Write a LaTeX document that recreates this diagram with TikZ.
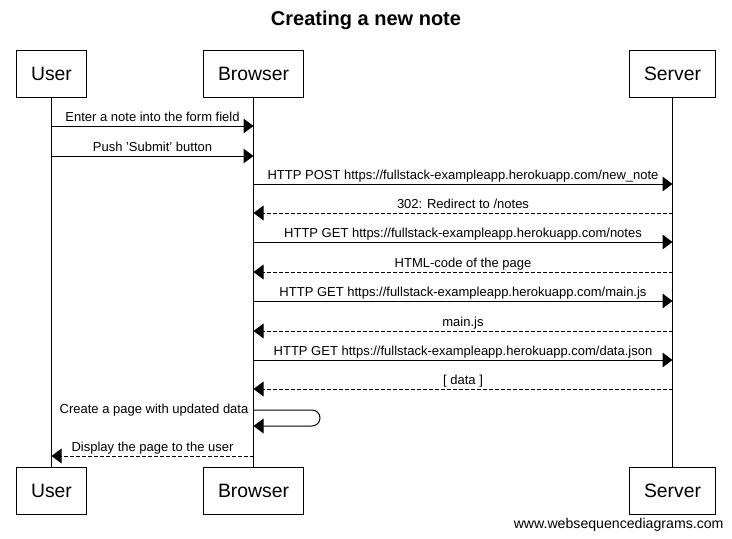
\documentclass[tikz,border=0pt]{standalone}
\usepackage{fontspec}
\setmainfont{Liberation Sans}
\usetikzlibrary{arrows.meta}

\begin{document}
\begin{tikzpicture}[x=0.75pt,y=-0.75pt,line width=0.75pt,
  deltagare/.style={draw,inner xsep=11.25pt,minimum height=35.25pt,font=\fontsize{14.5}{17}\selectfont},
  medd/.style={-{Triangle[length=7.5pt,width=11pt]}},
  svar/.style={medd,dash pattern=on 3pt off 1.5pt},
  etikett/.style={font=\fontsize{9.75}{12}\selectfont,inner sep=0pt}]
  \useasboundingbox (0,0) rectangle (732,539);
  % Rubrik
  \node[font=\bfseries\fontsize{15}{18}\selectfont] (titel) at (366,20) {Creating a new note};
  % Deltagare och livslinjer
  \foreach \n/\t/\x in {user/User/51.5, browser/Browser/253.5, server/Server/672.5} {
    \node[deltagare] (\n1) at (\x,73.5) {\t};
    \node[deltagare] (\n2) at (\x,490.5) {\t};
    \draw (\n1) -- (\n2);
  }
  % Meddelanden
  \draw[medd] (user1 |- 0,126) -- (browser1 |- 0,126) node[etikett,midway,anchor=base,yshift=3.2pt] {Enter a note into the form field};
  \draw[medd] (user1 |- 0,156) -- (browser1 |- 0,156) node[etikett,midway,anchor=base,yshift=3.2pt] {Push 'Submit' button};
  \draw[medd] (browser1 |- 0,184) -- (server1 |- 0,184) node[etikett,midway,anchor=base,yshift=3.2pt] {HTTP POST https://fullstack-exampleapp.herokuapp.com/new\_note};
  \draw[svar] (server1 |- 0,213) -- (browser1 |- 0,213) node[etikett,midway,anchor=base,yshift=3.2pt] {302: Redirect to /notes};
  \draw[medd] (browser1 |- 0,242) -- (server1 |- 0,242) node[etikett,midway,anchor=base,yshift=3.2pt] {HTTP GET https://fullstack-exampleapp.herokuapp.com/notes};
  \draw[svar] (server1 |- 0,272) -- (browser1 |- 0,272) node[etikett,midway,anchor=base,yshift=3.2pt] {HTML-code of the page};
  \draw[medd] (browser1 |- 0,301) -- (server1 |- 0,301) node[etikett,midway,anchor=base,yshift=3.2pt] {HTTP GET https://fullstack-exampleapp.herokuapp.com/main.js};
  \draw[svar] (server1 |- 0,331) -- (browser1 |- 0,331) node[etikett,midway,anchor=base,yshift=3.2pt] {main.js};
  \draw[medd] (browser1 |- 0,360) -- (server1 |- 0,360) node[etikett,midway,anchor=base,yshift=3.2pt] {HTTP GET https://fullstack-exampleapp.herokuapp.com/data.json};
  \draw[svar] (server1 |- 0,389) -- (browser1 |- 0,389) node[etikett,midway,anchor=base,yshift=3.2pt] {[ data ]};
  % Egen slinga
  \draw[medd,rounded corners=6pt] (browser1 |- 0,410) node[etikett,anchor=east,xshift=-3.5pt] {Create a page with updated data}
    -- (320,410) -- (320,426) -- (browser1 |- 0,426);
  \draw[svar] (browser1 |- 0,456) -- (user1 |- 0,456) node[etikett,midway,anchor=base,yshift=3.2pt] {Display the page to the user};
  % Vattenstämpel
  \node[font=\fontsize{10.6}{13}\selectfont,anchor=base east,inner sep=0pt] (stampel) at (724,528) {www.websequencediagrams.com};
\end{tikzpicture}
\end{document}
